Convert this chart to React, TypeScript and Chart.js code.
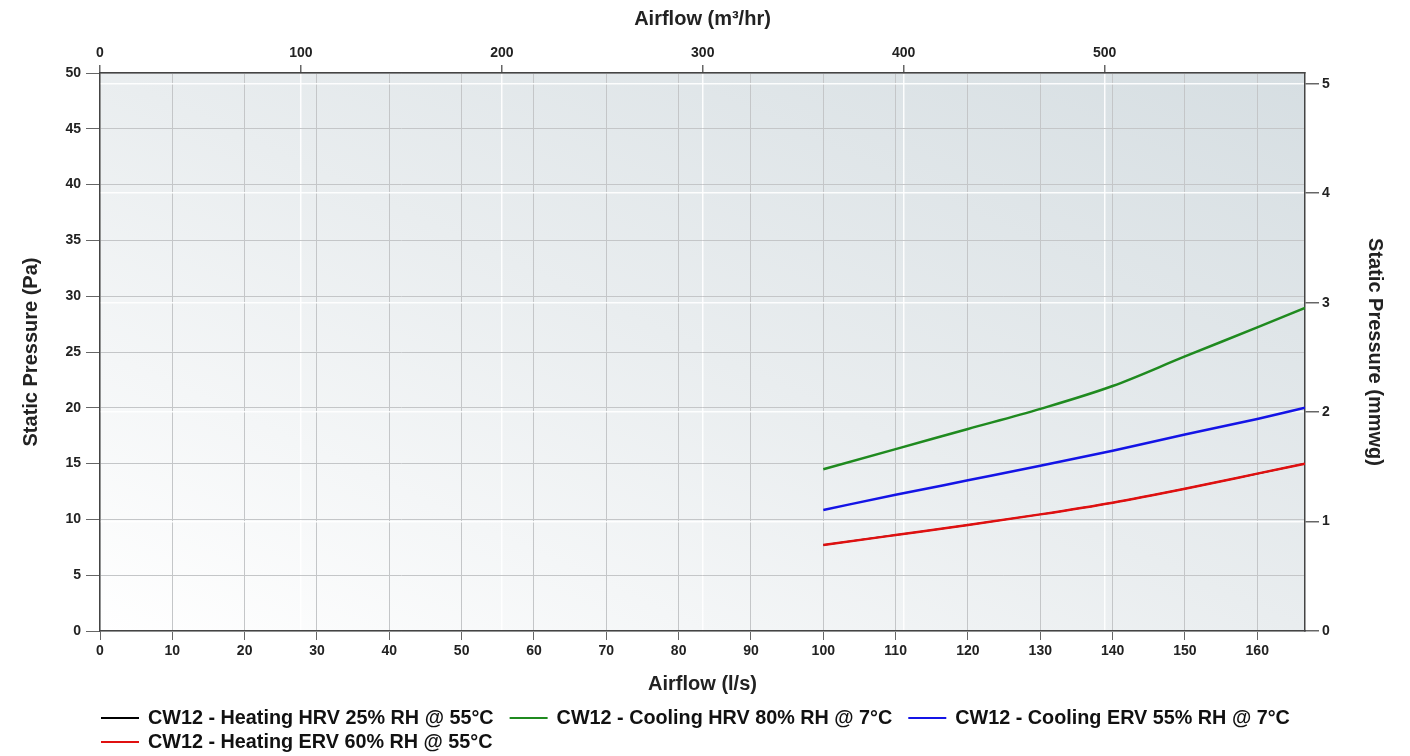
import React, { useEffect, useRef } from "react";
import { Chart, registerables } from "chart.js";

Chart.register(...registerables);

const airflowLs = [100, 110, 120, 130, 140, 150, 160, 166.6];
const heatingHrv = [7.7, 8.6, 9.5, 10.45, 11.5, 12.75, 14.1, 15.0];
const coolingHrv = [14.5, 16.3, 18.1, 19.9, 21.95, 24.6, 27.2, 28.95];
const coolingErv = [10.85, 12.2, 13.5, 14.8, 16.15, 17.6, 19.0, 20.0];
const heatingErv = [7.7, 8.6, 9.5, 10.45, 11.5, 12.75, 14.1, 15.0];

const seriesLabels = [
  "CW12 - Heating HRV 25% RH @ 55°C",
  "CW12 - Cooling HRV 80% RH @ 7°C",
  "CW12 - Cooling ERV 55% RH @ 7°C",
  "CW12 - Heating ERV 60% RH @ 55°C",
];
const seriesColors = ["#000000", "#1f8a1f", "#1414e6", "#e01010"];
const seriesWidths = [1.5, 2.5, 2.5, 2.5];
const seriesOrder = [4, 3, 2, 1];

const lsTicks = [0, 10, 20, 30, 40, 50, 60, 70, 80, 90, 100, 110, 120, 130, 140, 150, 160];
const m3hTicks = [0, 100, 200, 300, 400, 500];
const paTicks = [0, 5, 10, 15, 20, 25, 30, 35, 40, 45, 50];
const mmwgTicks = [0, 1, 2, 3, 4, 5];

const X_MAX_LS = 166.6;
const X_MAX_M3H = X_MAX_LS * 3.6;
const Y_MAX_PA = 50;
const Y_MAX_MMWG = Y_MAX_PA / 9.80665;

const FONT = '"Liberation Sans", Arial, Helvetica, sans-serif';

const bgPlugin = {
  id: "bgGradient",
  beforeDraw(chart: any) {
    const { ctx, chartArea } = chart;
    if (!chartArea) return;
    const { left, top, right, bottom } = chartArea;
    const w = right - left;
    const h = bottom - top;
    const cx = left + w / 2;
    const cy = top + h / 2;
    const k = (w * h) / (w * w + h * h);
    ctx.save();
    ctx.fillStyle = "#ffffff";
    ctx.fillRect(0, 0, chart.width, chart.height);
    const g = ctx.createLinearGradient(cx - h * k, cy + w * k, cx + h * k, cy - w * k);
    g.addColorStop(0, "#ffffff");
    g.addColorStop(0.5, "#e9edef");
    g.addColorStop(1, "#d6dee2");
    ctx.fillStyle = g;
    ctx.fillRect(left, top, w, h);
    ctx.restore();
  },
};

const legendPlugin = {
  id: "customLegend",
  afterDraw(chart: any) {
    const { ctx, chartArea } = chart;
    const startX = chartArea.left + 1;
    let x = startX;
    let y = 718;
    ctx.save();
    ctx.font = `bold 19.8px ${FONT}`;
    ctx.textBaseline = "middle";
    ctx.textAlign = "left";
    chart.data.datasets.forEach((ds: any) => {
      const w = 38 + 9 + ctx.measureText(ds.label).width;
      if (x > startX && x + w > chartArea.right) {
        x = startX;
        y += 24;
      }
      ctx.strokeStyle = ds.borderColor;
      ctx.lineWidth = 2;
      ctx.beginPath();
      ctx.moveTo(x, y);
      ctx.lineTo(x + 38, y);
      ctx.stroke();
      ctx.fillStyle = "#111111";
      ctx.fillText(ds.label, x + 47, y + 1);
      x += w + 16;
    });
    ctx.restore();
  },
};

const setTicks = (vals: number[]) => (s: any) => {
  s.ticks = vals.map((v) => ({ value: v }));
};

export default function App() {
  const canvasRef = useRef<HTMLCanvasElement | null>(null);

  useEffect(() => {
    document.body.style.margin = "0";
    const canvas = canvasRef.current;
    if (!canvas) return;
    const seriesData = [heatingHrv, coolingHrv, coolingErv, heatingErv];
    const datasets = seriesLabels.map((label, i) => ({
      label,
      data: airflowLs.map((x, j) => ({ x, y: seriesData[i][j] })),
      borderColor: seriesColors[i],
      backgroundColor: seriesColors[i],
      borderWidth: seriesWidths[i],
      pointRadius: 0,
      order: seriesOrder[i],
      cubicInterpolationMode: "monotone" as const,
      fill: false,
      xAxisID: "x",
      yAxisID: "y",
    }));

    const tickFont = { family: FONT, size: 14, weight: "bold" as const };
    const titleFont = { family: FONT, size: 20, weight: "bold" as const };

    const chart = new Chart(canvas, {
      type: "line",
      data: { datasets },
      plugins: [bgPlugin, legendPlugin],
      options: {
        animation: false,
        responsive: true,
        maintainAspectRatio: false,
        layout: { padding: { left: 0, right: 0, top: 0, bottom: 55 } },
        plugins: { legend: { display: false }, tooltip: { enabled: false } },
        scales: {
          x: {
            type: "linear",
            position: "bottom",
            min: 0,
            max: X_MAX_LS,
            afterFit: (s: any) => { s.height = 70; },
            afterBuildTicks: setTicks(lsTicks),
            ticks: { font: tickFont, color: "#222", padding: 3, maxRotation: 0, autoSkip: false },
            grid: { color: "#c4c6c8", lineWidth: 1, tickColor: "#666", tickLength: 9 },
            border: { color: "#444", width: 1.5 },
            title: { display: true, text: "Airflow (l/s)", font: titleFont, color: "#222", padding: { top: 0, bottom: 5 } },
          },
          x2: {
            type: "linear",
            position: "top",
            min: 0,
            max: X_MAX_M3H,
            afterFit: (s: any) => { s.height = 73; },
            afterBuildTicks: setTicks(m3hTicks),
            ticks: { font: tickFont, color: "#222", padding: 3, maxRotation: 0, autoSkip: false },
            grid: { color: "rgba(255,255,255,0.9)", lineWidth: 1.5, tickColor: "#666", tickLength: 8 },
            border: { color: "#444", width: 1.5 },
            title: { display: true, text: "Airflow (m³/hr)", font: titleFont, color: "#222", padding: { top: 7, bottom: 0 } },
          },
          y: {
            type: "linear",
            position: "left",
            min: 0,
            max: Y_MAX_PA,
            afterFit: (s: any) => { s.width = 100; },
            afterBuildTicks: setTicks(paTicks),
            ticks: { font: tickFont, color: "#222", padding: 5, autoSkip: false },
            grid: { color: "#c4c6c8", lineWidth: 1, tickColor: "#666", tickLength: 14 },
            border: { color: "#444", width: 1.5 },
            title: { display: true, text: "Static Pressure (Pa)", font: titleFont, color: "#222", padding: { top: 19, bottom: 0 } },
          },
          y2: {
            type: "linear",
            position: "right",
            min: 0,
            max: Y_MAX_MMWG,
            afterFit: (s: any) => { s.width = 105; },
            afterBuildTicks: setTicks(mmwgTicks),
            ticks: { font: tickFont, color: "#222", padding: 3, autoSkip: false },
            grid: { color: "rgba(255,255,255,0.9)", lineWidth: 1.5, tickColor: "#666", tickLength: 14 },
            border: { color: "#444", width: 1.5 },
            title: { display: true, text: "Static Pressure (mmwg)", font: titleFont, color: "#222", padding: { top: 23, bottom: 0 } },
          },
        },
      } as any,
    });
    return () => chart.destroy();
  }, []);

  return (
    <div style={{ position: "fixed", left: 0, top: 0, width: 1410, height: 756 }}>
      <canvas ref={canvasRef} />
    </div>
  );
}
